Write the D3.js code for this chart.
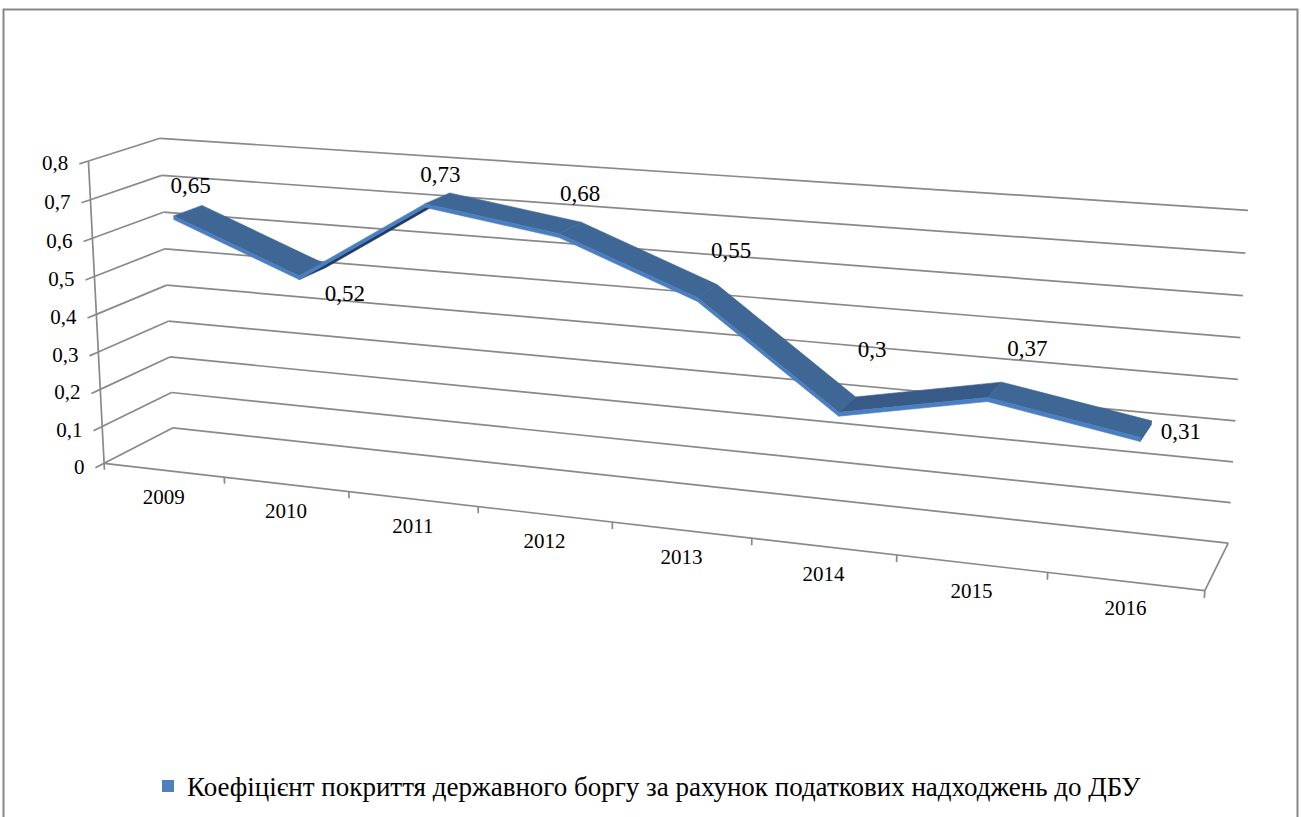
<!DOCTYPE html>
<html>
<head>
<meta charset="utf-8">
<script src="https://cdn.jsdelivr.net/npm/d3@7"></script>
<style>
  body { margin: 0; background: #fff; }
  svg { display: block; }
</style>
</head>
<body>
<svg id="chart" width="1301" height="817"></svg>
<script>
// ---- data ----
const years = ["2009", "2010", "2011", "2012", "2013", "2014", "2015", "2016"];
const coverage = [0.65, 0.52, 0.73, 0.68, 0.55, 0.3, 0.37, 0.31];
const valueTicks = [0, 0.1, 0.2, 0.3, 0.4, 0.5, 0.6, 0.7, 0.8];
const seriesName = "Коефіцієнт покриття державного боргу за рахунок податкових надходжень до ДБУ";

// ---- layout ----
// Screen anchors of the unit plot box: [X, Y, Z, px, py]
// X: along categories (0 left .. 1 right), Y: value (0 floor .. 1 top), Z: depth (0 front .. 1 back)
const boxAnchors = [
  [0, 0, 0, 104, 463], [1, 0, 0, 1205, 590],
  [0, 1, 0, 88, 162],  [0, 0, 1, 173, 428],
  [0, 1, 1, 160, 138], [1, 0, 1, 1228, 543], [1, 1, 1, 1248, 210],
  [0.125, 0, 0, 224, 477.5], [0.25, 0, 0, 349, 492], [0.375, 0, 0, 478, 507],
  [0, 0.5, 0, 97, 313], [0, 0.5, 1, 167, 285], [1, 0.5, 1, 1238, 380]
];
const ribbonFront = 0.3, ribbonBack = 0.71, ribbonThick = 0.012;
const labelOffsets = [[3, -25], [33, 23], [3, -24], [10, -35], [24, -41], [25, -55], [33, -41], [35, 2]];
const serif = "'Liberation Serif', 'Times New Roman', 'DejaVu Serif', serif";

// Least-squares fit of a 3D->2D projective map to the box anchors
function fitProjection(anchors) {
  const n = 11;
  const M = Array.from({ length: n }, () => new Array(n).fill(0));
  const r = new Array(n).fill(0);
  const addRow = (row, val) => {
    for (let i = 0; i < n; i++) {
      r[i] += row[i] * val;
      for (let j = 0; j < n; j++) M[i][j] += row[i] * row[j];
    }
  };
  anchors.forEach(([X, Y, Z, u, v]) => {
    addRow([X, Y, Z, 1, 0, 0, 0, 0, -u * X, -u * Y, -u * Z], u);
    addRow([0, 0, 0, 0, X, Y, Z, 1, -v * X, -v * Y, -v * Z], v);
  });
  for (let c = 0; c < n; c++) {
    let p = c;
    for (let i = c + 1; i < n; i++) if (Math.abs(M[i][c]) > Math.abs(M[p][c])) p = i;
    [M[c], M[p]] = [M[p], M[c]];
    [r[c], r[p]] = [r[p], r[c]];
    for (let i = c + 1; i < n; i++) {
      const f = M[i][c] / M[c][c];
      for (let j = c; j < n; j++) M[i][j] -= f * M[c][j];
      r[i] -= f * r[c];
    }
  }
  const m = new Array(n).fill(0);
  for (let i = n - 1; i >= 0; i--) {
    let s = r[i];
    for (let j = i + 1; j < n; j++) s -= M[i][j] * m[j];
    m[i] = s / M[i][i];
  }
  return (X, Y, Z) => {
    const w = m[8] * X + m[9] * Y + m[10] * Z + 1;
    return [(m[0] * X + m[1] * Y + m[2] * Z + m[3]) / w, (m[4] * X + m[5] * Y + m[6] * Z + m[7]) / w];
  };
}
const P = fitProjection(boxAnchors);

const x = d3.scalePoint().domain(years).range([0, 1]).padding(0.5);
const y = d3.scaleLinear().domain([0, 0.8]).range([0, 1]);
const fmt = v => String(v).replace(".", ",");

const svg = d3.select("#chart");
const gridColor = "#898989";

// outer frame
svg.append("rect").attr("x", 3.5).attr("y", 9.5).attr("width", 1294).attr("height", 900)
  .attr("fill", "none").attr("stroke", "#878787").attr("stroke-width", 2);

const grid = svg.append("g").attr("stroke", gridColor).attr("stroke-width", 1.7).attr("fill", "none");
const seg = (a, b) => grid.append("line").attr("x1", a[0]).attr("y1", a[1]).attr("x2", b[0]).attr("y2", b[1]);

// side wall and back wall gridlines
valueTicks.forEach(v => {
  seg(P(0, y(v), 0), P(0, y(v), 1));
  seg(P(0, y(v), 1), P(1, y(v), 1));
});
// floor edges
seg(P(0, 0, 0), P(1, 0, 0));
seg(P(1, 0, 0), P(1, 0, 1));
// value axis with ticks
seg(P(0, 0, 0), P(0, 1, 0));
valueTicks.forEach(v => seg(P(0, y(v), 0), P(0, y(v), -0.12)));
// category tick marks at band boundaries
const step = x.step();
d3.range(years.length + 1).forEach(k => {
  const b = k * step;
  seg(P(b, 0, 0), P(b, -0.022, 0));
});

// value labels
svg.append("g").selectAll("text").data(valueTicks).join("text")
  .attr("x", d => P(0, y(d), -0.12)[0] - 11)
  .attr("y", d => P(0, y(d), -0.12)[1] - 1)
  .attr("text-anchor", "end").attr("dominant-baseline", "central")
  .attr("font-family", serif).attr("font-size", 21).text(fmt);

// category labels
svg.append("g").selectAll("text").data(years).join("text")
  .attr("x", d => P(x(d), 0, 0)[0])
  .attr("y", d => P(x(d), 0, 0)[1] + 27)
  .attr("text-anchor", "middle").attr("dominant-baseline", "central")
  .attr("font-family", serif).attr("font-size", 21).text(d => d);

// ---- 3D ribbon ----
const pts = years.map((yr, i) => {
  const X = x(yr), Yt = y(coverage[i]), Yb = Yt - ribbonThick;
  return {
    ft: P(X, Yt, ribbonFront), bt: P(X, Yt, ribbonBack),
    fb: P(X, Yb, ribbonFront), bb: P(X, Yb, ribbonBack)
  };
});
const ribbon = svg.append("g").attr("stroke-linejoin", "round");
const poly = (arr, fill) => ribbon.append("path")
  .attr("d", "M" + arr.map(p => p.join(",")).join("L") + "Z")
  .attr("fill", fill).attr("stroke", fill).attr("stroke-width", 0.6);

for (let i = 0; i < pts.length - 1; i++) {
  const a = pts[i], b = pts[i + 1];
  const dx = b.ft[0] - a.ft[0], dy = b.ft[1] - a.ft[1];
  const ex = a.bt[0] - a.ft[0], ey = a.bt[1] - a.ft[1];
  const cross = dx * ey - dy * ex;
  if (cross < 0) {
    poly([a.ft, b.ft, b.bt, a.bt], dy > 0 ? "#3E6796" : "#385A88");
  } else {
    poly([a.fb, b.fb, b.bb, a.bb], "#1F3B62");
  }
}
// end cap of the last point
const last = pts[pts.length - 1];
poly([last.ft, last.bt, last.bb, last.fb], "#3A5F8F");
// front faces
for (let i = 0; i < pts.length - 1; i++) {
  const a = pts[i], b = pts[i + 1];
  poly([a.ft, b.ft, b.fb, a.fb], "#4A7EC0");
}

// data labels
svg.append("g").selectAll("text").data(coverage).join("text")
  .attr("x", (d, i) => P(x(years[i]), y(d), 0.5)[0] + labelOffsets[i][0])
  .attr("y", (d, i) => P(x(years[i]), y(d), 0.5)[1] + labelOffsets[i][1])
  .attr("text-anchor", "middle").attr("dominant-baseline", "central")
  .attr("font-family", serif).attr("font-size", 23).text(fmt);

// legend
const legend = svg.append("g");
legend.append("rect").attr("x", 162).attr("y", 780).attr("width", 12).attr("height", 12).attr("fill", "#4F81BD");
legend.append("text").attr("x", 187).attr("y", 787).attr("dominant-baseline", "central")
  .attr("font-family", serif).attr("font-size", 27).text(seriesName);
</script>
</body>
</html>
